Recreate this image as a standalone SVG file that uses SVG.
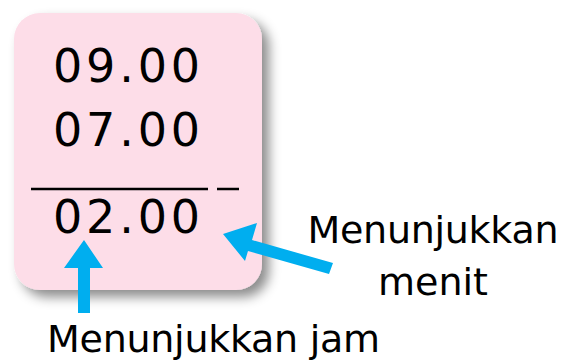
<svg xmlns="http://www.w3.org/2000/svg" width="573" height="361" viewBox="0 0 573 361">
<style>
.num{font-family:"DejaVu Sans",sans-serif;font-size:46px;fill:#000;letter-spacing:3px}
.lbl{font-family:"DejaVu Sans",sans-serif;font-size:38px;fill:#000}
.arrow{fill:#00aeef}
</style>
<defs>
<filter id="sh" x="-20%" y="-20%" width="140%" height="140%">
<feDropShadow dx="7" dy="7" stdDeviation="6" flood-color="#000" flood-opacity="0.45"/>
</filter>
</defs>
<rect width="573" height="361" fill="#fff"/>
<g id="box">
<rect x="14" y="13" width="248" height="277" rx="26" fill="#fddde8" filter="url(#sh)"/>
<text class="num" x="53" y="82" textLength="150">09.00</text>
<text class="num" x="53" y="146" textLength="150">07.00</text>
<line x1="31" y1="189" x2="208" y2="189" stroke="#000" stroke-width="2.5"/>
<line x1="217" y1="189" x2="239" y2="189" stroke="#000" stroke-width="2.5"/>
<text class="num" x="53" y="233" textLength="150">02.00</text>
</g>
<g id="connectors">
<polygon class="arrow" points="84,240 103,268 90,268 90,313 78,313 78,268 64,268"/>
<polygon class="arrow" points="223,234 257,223 252,240 333,263 329,274 248,251 245,261"/>
</g>
<g id="label-menit">
<text class="lbl" x="433" y="243" text-anchor="middle" textLength="251">Menunjukkan</text>
<text class="lbl" x="433" y="295" text-anchor="middle">menit</text>
</g>
<g id="label-jam">
<text class="lbl" x="47" y="352" textLength="333">Menunjukkan jam</text>
</g>
</svg>
